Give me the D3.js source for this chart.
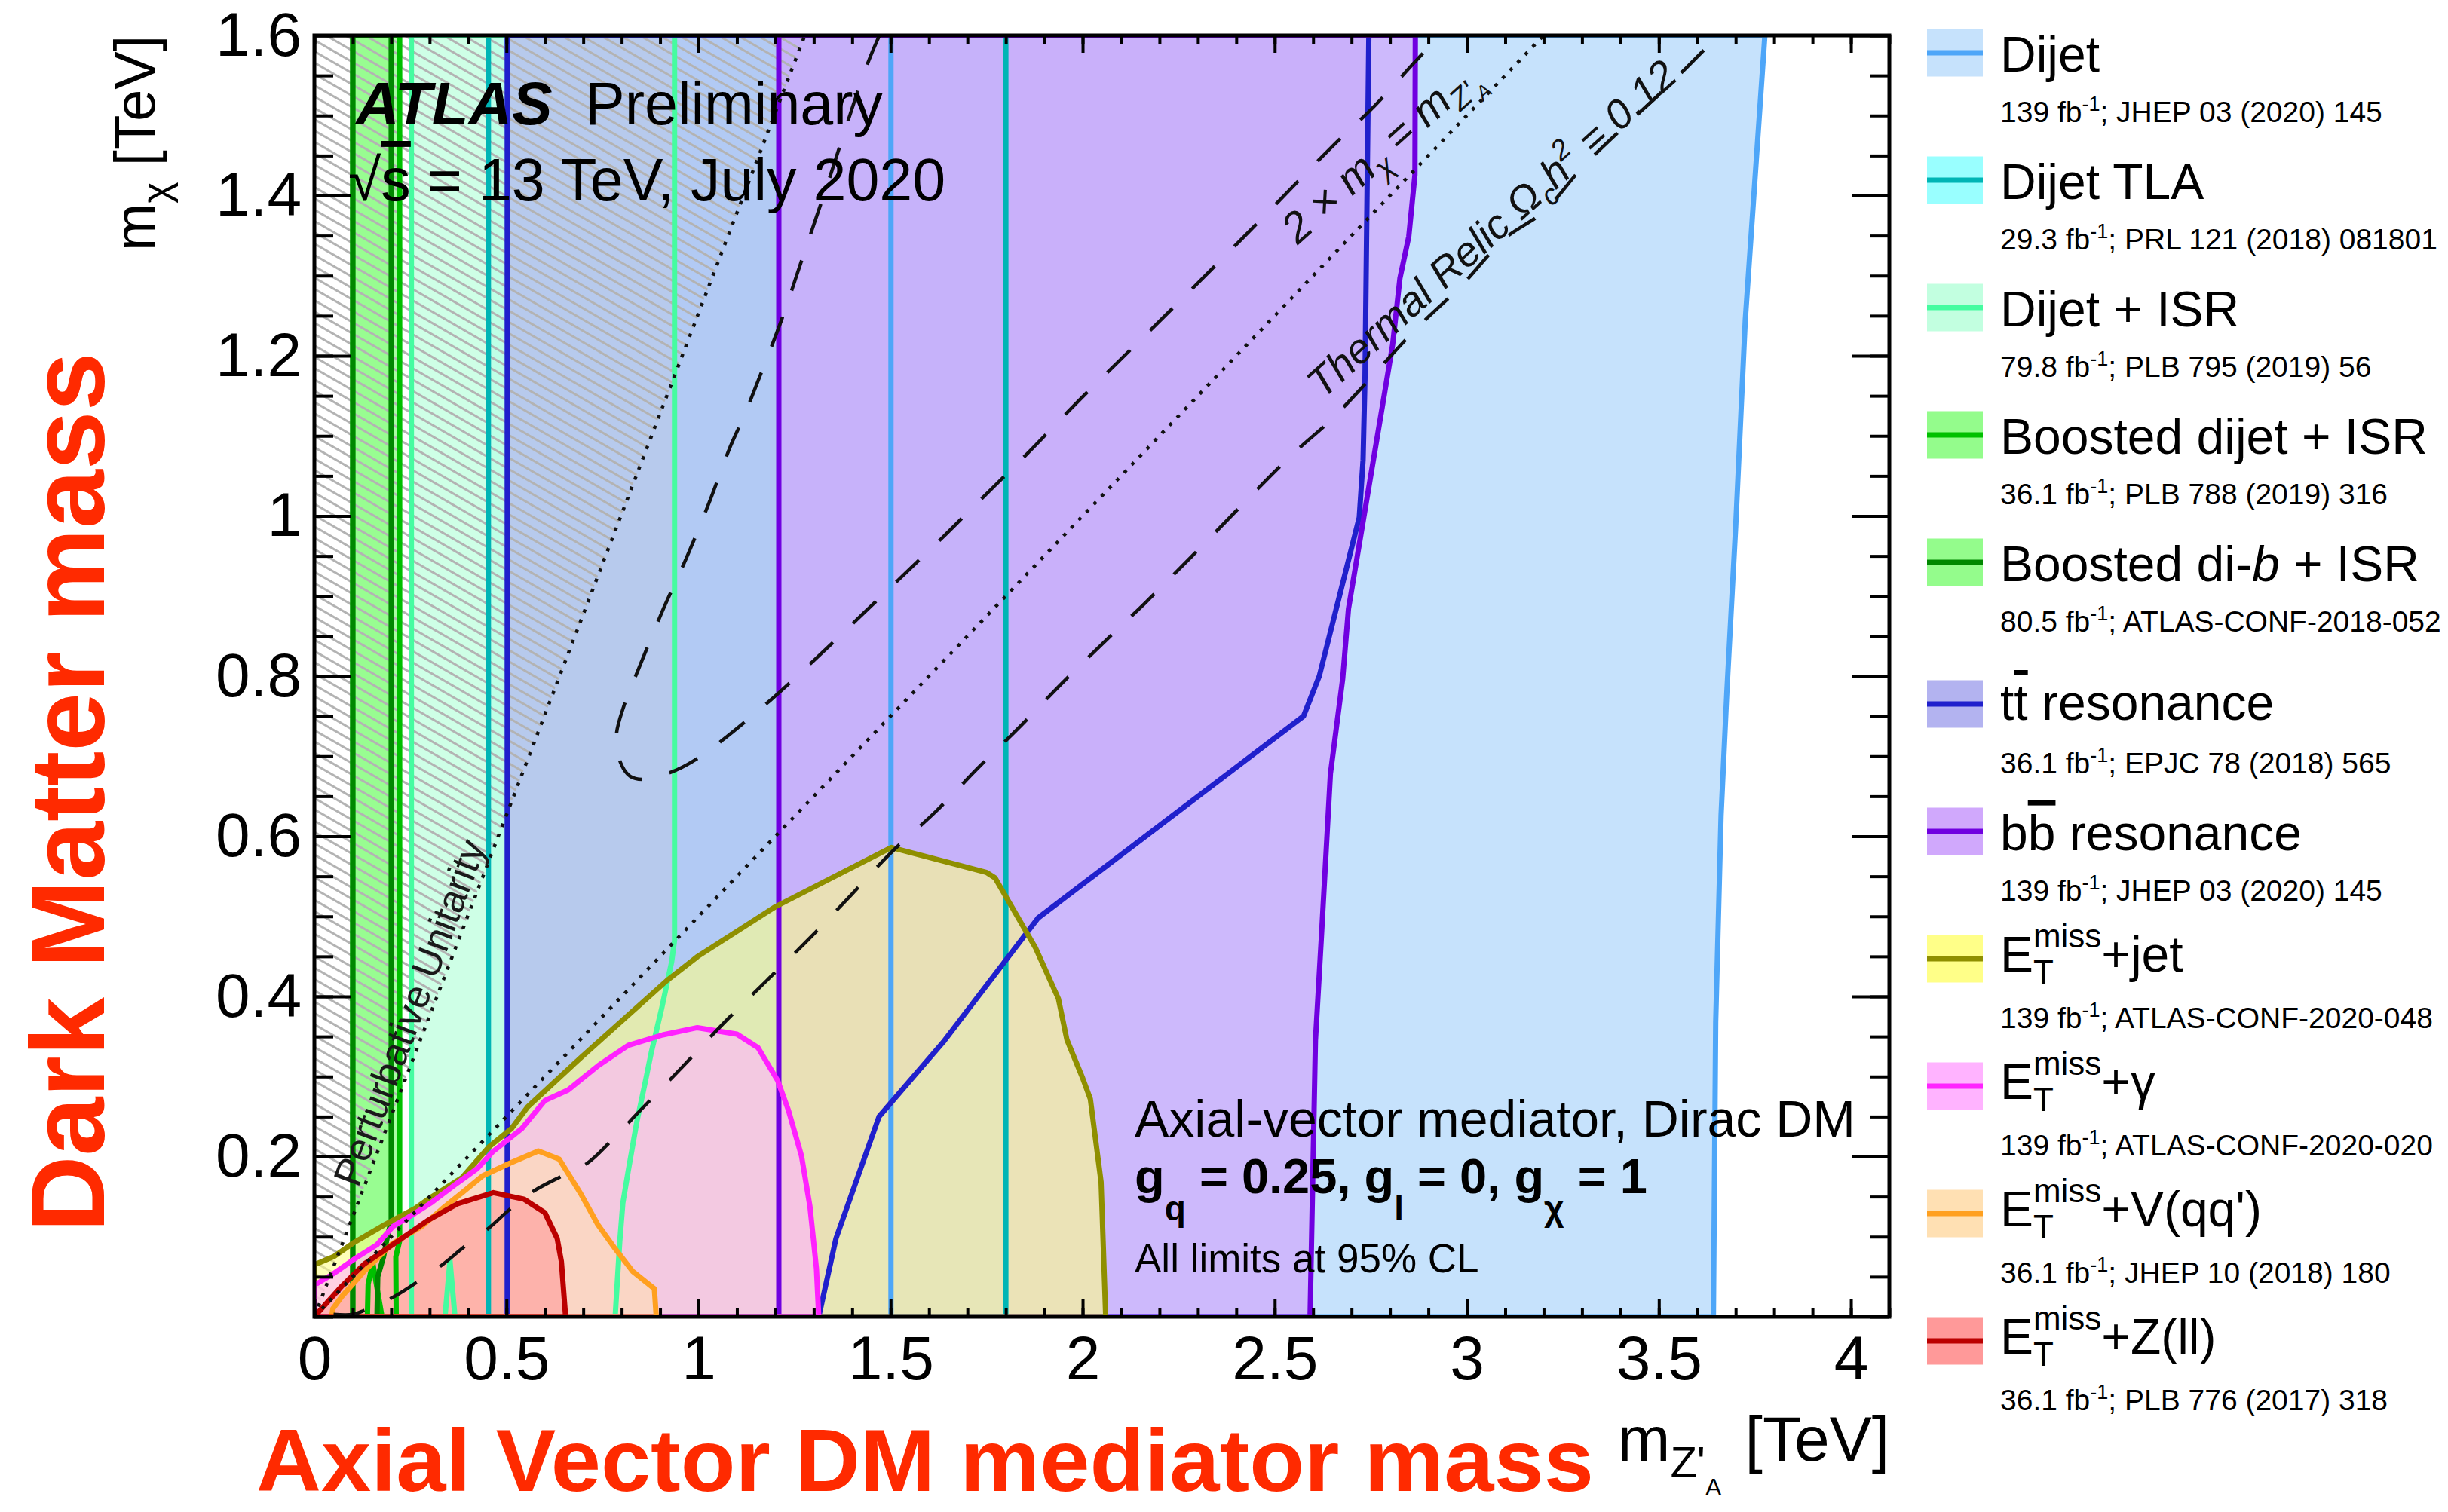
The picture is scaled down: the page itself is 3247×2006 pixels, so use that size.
<!DOCTYPE html>
<html>
<head>
<meta charset="utf-8">
<script src="https://cdn.jsdelivr.net/npm/d3@7"></script>
<style>
  body { margin: 0; background: #fff; }
  svg { display: block; }
  text { font-family: "Liberation Sans", Arial, Helvetica, sans-serif; }
</style>
</head>
<body>
<div id="chart"></div>
<script>
// axis ticks
const xMajorTicks = [0, 0.5, 1, 1.5, 2, 2.5, 3, 3.5, 4];
const yLabelTicks = [0.2, 0.4, 0.6, 0.8, 1, 1.2, 1.4, 1.6];

// exclusion contours, points are [m_Z'A, m_chi] in TeV
const dijet = [[1.501,0],[1.501,1.6],[3.776,1.6],[3.725,1.245],[3.70,0.987],[3.677,0.78],[3.662,0.626],[3.648,0.368],[3.642,0]];
const dijetTLA = [[0.453,0],[0.453,1.6],[1.80,1.6],[1.80,0]];
const dijetISR = [[0.2525,0],[0.2525,1.6],[0.9376,1.6],[0.9376,0.47],[0.93,0.443],[0.904,0.385],[0.877,0.33],[0.86,0.29],[0.84,0.245],[0.817,0.182],[0.803,0.142],[0.795,0.094],[0.783,0],[0.366,0],[0.353,0.07],[0.340,0]];
const boostedDijetISR = [[0.1,0],[0.1,1.6],[0.222,1.6],[0.222,0.095],[0.212,0.075],[0.213,0],[0.176,0],[0.152,0.067],[0.14,0.041],[0.138,0]];
const boostedDibISR = [[0.1,0],[0.1,1.6],[0.2,1.6],[0.2,0.12],[0.19,0.1],[0.18,0.075],[0.165,0.05],[0.163,0]];
const ttbarRes = [[0.502,0],[0.502,1.6],[2.745,1.6],[2.735,1.173],[2.73,1.07],[2.72,0.998],[2.616,0.80],[2.575,0.75],[1.884,0.498],[1.637,0.343],[1.47,0.25],[1.358,0.098],[1.313,0]];
const bbRes = [[1.209,0],[1.209,1.6],[2.866,1.6],[2.865,1.426],[2.849,1.349],[2.826,1.297],[2.807,1.214],[2.782,1.142],[2.722,0.97],[2.692,0.884],[2.677,0.797],[2.645,0.678],[2.621,0.47],[2.606,0.345],[2.592,0]];
const metJet = [[0,0],[0,0.065],[0.05,0.075],[0.104,0.093],[0.183,0.115],[0.261,0.135],[0.306,0.15],[0.385,0.174],[0.454,0.212],[0.513,0.235],[0.555,0.262],[0.69,0.322],[0.918,0.42],[0.998,0.45],[1.2,0.512],[1.502,0.586],[1.749,0.555],[1.772,0.548],[1.877,0.461],[1.937,0.397],[1.959,0.346],[2.0,0.298],[2.02,0.272],[2.048,0.168],[2.06,0]];
const metGamma = [[0,0],[0,0.042],[0.009,0.042],[0.05,0.054],[0.11,0.074],[0.163,0.09],[0.205,0.113],[0.261,0.129],[0.306,0.143],[0.372,0.167],[0.424,0.185],[0.464,0.206],[0.54,0.235],[0.60,0.27],[0.66,0.283],[0.74,0.314],[0.817,0.339],[0.907,0.352],[0.997,0.361],[1.1,0.353],[1.155,0.336],[1.206,0.295],[1.234,0.258],[1.268,0.201],[1.29,0.138],[1.307,0.06],[1.313,0]];
const metV = [[0.045,0],[0.048,0.01],[0.071,0.025],[0.13,0.057],[0.202,0.091],[0.28,0.113],[0.333,0.135],[0.385,0.155],[0.438,0.176],[0.51,0.192],[0.583,0.207],[0.637,0.197],[0.693,0.154],[0.738,0.115],[0.783,0.085],[0.828,0.057],[0.885,0.035],[0.89,0]];
const metZ = [[0,0],[0.009,0.005],[0.071,0.038],[0.13,0.066],[0.216,0.094],[0.294,0.12],[0.372,0.141],[0.466,0.155],[0.545,0.147],[0.6,0.13],[0.632,0.098],[0.643,0.069],[0.654,0]];

// theory curves
const unitarityLine = [[0,0],[1.2767,1.6]];
const twoMassLine = [[0,0],[3.2,1.6]];
const relicUpper = [[1.471,1.6],[1.437,1.561],[1.33,1.406],[1.274,1.327],[1.217,1.246],[1.161,1.176],[1.116,1.122],[1.083,1.087],[1.028,1.017],[0.968,0.947],[0.904,0.879],[0.844,0.809],[0.806,0.763],[0.786,0.725],[0.797,0.692],[0.822,0.675],[0.859,0.671],[0.934,0.681],[1.0,0.698],[1.062,0.72],[1.185,0.769],[1.299,0.819],[1.411,0.87],[1.52,0.92],[1.633,0.972],[1.74,1.023],[1.85,1.075],[1.986,1.142],[2.204,1.245],[2.429,1.353],[2.647,1.46],[2.76,1.512],[2.865,1.567],[2.93,1.6]];
const relicLower = [[0.05,0.003],[0.1,0.003],[0.13,0.008],[0.203,0.024],[0.26,0.041],[0.333,0.065],[0.389,0.087],[0.457,0.112],[0.513,0.136],[0.571,0.157],[0.645,0.176],[0.711,0.192],[0.767,0.217],[0.851,0.259],[0.958,0.312],[1.066,0.367],[1.178,0.42],[1.29,0.473],[1.396,0.526],[1.50,0.579],[1.62,0.632],[1.727,0.685],[1.839,0.738],[1.944,0.79],[2.057,0.843],[2.162,0.891],[2.287,0.951],[2.542,1.075],[2.655,1.124],[2.871,1.235],[2.985,1.287],[3.098,1.346],[3.2,1.38],[3.31,1.44],[3.53,1.54],[3.655,1.6]];

// legend
const seriesKeys = ["dijet","dijetTLA","dijetISR","boostedDijetISR","boostedDibISR","ttbarRes","bbRes","metJet","metGamma","metV","metZ"];
const legendLabels = ["Dijet","Dijet TLA","Dijet + ISR","Boosted dijet + ISR","Boosted di-{b} + ISR","t[t] resonance","b[b] resonance","MET+jet","MET+γ","MET+V(qq')","MET+Z(ll)"];
const legendLumi = ["139","29.3","79.8","36.1","80.5","36.1","139","139","139","36.1","36.1"];
const legendRefs = ["JHEP 03 (2020) 145","PRL 121 (2018) 081801","PLB 795 (2019) 56","PLB 788 (2019) 316","ATLAS-CONF-2018-052","EPJC 78 (2018) 565","JHEP 03 (2020) 145","ATLAS-CONF-2020-048","ATLAS-CONF-2020-020","JHEP 10 (2018) 180","PLB 776 (2017) 318"];

const seriesData = {dijet, dijetTLA, dijetISR, boostedDijetISR, boostedDibISR, ttbarRes, bbRes, metJet, metGamma, metV, metZ};
const seriesStyle = {
  dijet:           {fill: "#c6e2fc", line: "#4ea6f8", alpha: 1},
  dijetTLA:        {fill: "#99ffff", line: "#00b5b5", alpha: 0.8},
  dijetISR:        {fill: "#c2ffe0", line: "#45fca0", alpha: 0.8},
  boostedDijetISR: {fill: "#94fc8c", line: "#00c000", alpha: 0.8},
  boostedDibISR:   {fill: "#94fc8c", line: "#008800", alpha: 0.8},
  ttbarRes:        {fill: "#b3b3f0", line: "#2020cc", alpha: 0.7},
  bbRes:           {fill: "#d0a8fc", line: "#7000e0", alpha: 0.7},
  metJet:          {fill: "#ffff88", line: "#8f8f00", alpha: 0.6},
  metGamma:        {fill: "#ffb3ff", line: "#ff22ff", alpha: 0.6},
  metV:            {fill: "#ffe0b3", line: "#ffa020", alpha: 0.6},
  metZ:            {fill: "#ff9999", line: "#bb0000", alpha: 0.6}
};

const W = 3247, H = 2006;
const plot = {left: 417, right: 2506, top: 47, bottom: 1747};

const x = d3.scaleLinear().domain([0, 4.1]).range([plot.left, plot.right]);
const y = d3.scaleLinear().domain([0, 1.6]).range([plot.bottom, plot.top]);

const svg = d3.select("#chart").append("svg")
  .attr("width", W).attr("height", H);

const defs = svg.append("defs");
defs.append("clipPath").attr("id", "inner")
  .append("rect")
  .attr("x", plot.left + 1).attr("y", plot.top + 1)
  .attr("width", plot.right - plot.left - 2).attr("height", plot.bottom - plot.top - 2);
const hatch = defs.append("pattern").attr("id", "hatch")
  .attr("patternUnits", "userSpaceOnUse")
  .attr("width", 20).attr("height", 13)
  .attr("patternTransform", "rotate(30)");
hatch.append("line")
  .attr("x1", 0).attr("y1", 6.5).attr("x2", 20).attr("y2", 6.5)
  .attr("stroke", "#b3b3b3").attr("stroke-width", 3);

const line = d3.line().x(d => x(d[0])).y(d => y(d[1]));
const smooth = d3.line().x(d => x(d[0])).y(d => y(d[1])).curve(d3.curveCatmullRom.alpha(0.5));

const area = svg.append("g").attr("clip-path", "url(#inner)");

// fills of the resonance searches, then the unitarity hatch, then the E_T^miss fills
const lowerKeys = seriesKeys.slice(0, 7);
const metKeys = seriesKeys.slice(7);

lowerKeys.forEach(k => {
  area.append("path")
    .attr("d", line(seriesData[k]) + "Z")
    .attr("fill", seriesStyle[k].fill)
    .attr("fill-opacity", seriesStyle[k].alpha)
    .attr("stroke", "none");
});

area.append("path")
  .attr("d", line([[0, 0], unitarityLine[1], [0, 1.6]]) + "Z")
  .attr("fill", "url(#hatch)");

metKeys.forEach(k => {
  area.append("path")
    .attr("d", line(seriesData[k]) + "Z")
    .attr("fill", seriesStyle[k].fill)
    .attr("fill-opacity", seriesStyle[k].alpha)
    .attr("stroke", "none");
});

// contour lines
seriesKeys.forEach(k => {
  area.append("path")
    .attr("d", line(seriesData[k]) + "Z")
    .attr("fill", "none")
    .attr("stroke", seriesStyle[k].line)
    .attr("stroke-width", 7)
    .attr("stroke-linejoin", "round");
});

// theory lines
[unitarityLine, twoMassLine].forEach(l => {
  area.append("path")
    .attr("d", line(l))
    .attr("fill", "none")
    .attr("stroke", "#111")
    .attr("stroke-width", 4.5)
    .attr("stroke-dasharray", "4.5,10");
});
[relicUpper, relicLower].forEach(l => {
  area.append("path")
    .attr("d", smooth(l))
    .attr("fill", "none")
    .attr("stroke", "#111")
    .attr("stroke-width", 4.5)
    .attr("stroke-dasharray", "42,37");
});

// labels on the theory lines
svg.append("text")
  .attr("transform", `translate(${x(0.114)},${y(0.16)}) rotate(-69.5)`)
  .attr("font-size", 52).attr("fill", "#1a1a1a")
  .text("Perturbative Unitarity");

const twoM = svg.append("text")
  .attr("transform", `translate(${x(2.56)},${y(1.338)}) rotate(-42)`)
  .attr("font-size", 57).attr("font-style", "italic").attr("fill", "#111");
twoM.append("tspan").text("2 × m");
twoM.append("tspan").attr("font-size", 40).attr("dy", 13).text("χ");
twoM.append("tspan").attr("dy", -13).text(" = m");
twoM.append("tspan").attr("font-size", 40).attr("dy", 13).text("Z'");
twoM.append("tspan").attr("font-size", 27).attr("dy", 10).text("A");

const relic = svg.append("text")
  .attr("transform", `translate(${x(2.625)},${y(1.145)}) rotate(-42)`)
  .attr("font-size", 55).attr("font-style", "italic").attr("fill", "#111");
relic.append("tspan").text("Thermal Relic Ω");
relic.append("tspan").attr("font-size", 38).attr("dy", 13).text("c");
relic.append("tspan").attr("dy", -13).text("h");
relic.append("tspan").attr("font-size", 38).attr("dy", -23).text("2");
relic.append("tspan").attr("dy", 23).text(" = 0.12");

// frame and ticks
function styleAxis(g) {
  g.select(".domain").remove();
  g.selectAll(".tick line").attr("stroke", "#000").attr("stroke-width", 4);
  g.attr("font-family", null).attr("font-size", 82);
  g.selectAll("text").attr("fill", "#000");
}
const fmt = d3.format("~g");
svg.append("g").attr("transform", `translate(0,${plot.bottom})`)
  .call(d3.axisBottom(x).tickValues(x.ticks(41)).tickSize(-12).tickFormat(""))
  .call(styleAxis);
svg.append("g").attr("transform", `translate(0,${plot.bottom})`)
  .call(d3.axisBottom(x).tickValues(xMajorTicks).tickSize(-23).tickPadding(25).tickFormat(fmt))
  .call(styleAxis);
svg.append("g").attr("transform", `translate(0,${plot.top})`)
  .call(d3.axisTop(x).tickValues(x.ticks(41)).tickSize(-12).tickFormat(""))
  .call(styleAxis);
svg.append("g").attr("transform", `translate(0,${plot.top})`)
  .call(d3.axisTop(x).tickValues(xMajorTicks).tickSize(-23).tickFormat(""))
  .call(styleAxis);
svg.append("g").attr("transform", `translate(${plot.left},0)`)
  .call(d3.axisLeft(y).tickValues(y.ticks(32)).tickSize(-25).tickFormat(""))
  .call(styleAxis);
svg.append("g").attr("transform", `translate(${plot.left},0)`)
  .call(d3.axisLeft(y).tickValues(yLabelTicks).tickSize(-49).tickPadding(17).tickFormat(fmt))
  .call(styleAxis);
svg.append("g").attr("transform", `translate(${plot.right},0)`)
  .call(d3.axisRight(y).tickValues(y.ticks(32)).tickSize(-25).tickFormat(""))
  .call(styleAxis);
svg.append("g").attr("transform", `translate(${plot.right},0)`)
  .call(d3.axisRight(y).tickValues(yLabelTicks).tickSize(-49).tickFormat(""))
  .call(styleAxis);

svg.append("rect")
  .attr("x", plot.left).attr("y", plot.top)
  .attr("width", plot.right - plot.left).attr("height", plot.bottom - plot.top)
  .attr("fill", "none").attr("stroke", "#000").attr("stroke-width", 5);

// axis titles
const yTitle = svg.append("text")
  .attr("transform", `translate(205,${plot.top}) rotate(-90)`)
  .attr("text-anchor", "end").attr("font-size", 76);
yTitle.append("tspan").text("m");
yTitle.append("tspan").attr("font-size", 54).attr("dy", 20).text("χ");
yTitle.append("tspan").attr("dy", -20).text(" [TeV]");

const xTitle = svg.append("text")
  .attr("x", plot.right).attr("y", 1938)
  .attr("text-anchor", "end").attr("font-size", 84);
xTitle.append("tspan").text("m");
xTitle.append("tspan").attr("font-size", 58).attr("dy", 22).text("Z'");
xTitle.append("tspan").attr("font-size", 32).attr("dy", 24).text("A");
xTitle.append("tspan").attr("dy", -46).attr("dx", 8).text(" [TeV]");

svg.append("text")
  .attr("transform", "translate(138,1051) rotate(-90)")
  .attr("text-anchor", "middle")
  .attr("font-size", 140).attr("font-weight", "bold").attr("fill", "#ff2a00")
  .attr("textLength", 1167).attr("lengthAdjust", "spacingAndGlyphs")
  .text("Dark Matter mass");
svg.append("text")
  .attr("x", 340).attr("y", 1978)
  .attr("font-size", 116).attr("font-weight", "bold").attr("fill", "#ff2a00")
  .attr("textLength", 1774).attr("lengthAdjust", "spacingAndGlyphs")
  .text("Axial Vector DM mediator mass");

// ATLAS label
svg.append("text").attr("x", 472).attr("y", 165)
  .attr("font-size", 80).attr("font-weight", "bold").attr("font-style", "italic")
  .text("ATLAS");
svg.append("text").attr("x", 776).attr("y", 165)
  .attr("font-size", 79).text("Preliminary");
const sqrtS = svg.append("text").attr("x", 462).attr("y", 266).attr("font-size", 79);
sqrtS.append("tspan").text("√");
sqrtS.append("tspan").style("text-decoration", "overline").text("s");
sqrtS.append("tspan").text(" = 13 TeV, July 2020");

// model box
svg.append("text").attr("x", 1505).attr("y", 1508).attr("font-size", 68)
  .text("Axial-vector mediator, Dirac DM");
const gq = svg.append("text").attr("x", 1505).attr("y", 1583)
  .attr("font-size", 65).attr("font-weight", "bold");
gq.append("tspan").text("g");
gq.append("tspan").attr("font-size", 46).attr("dy", 36).text("q");
gq.append("tspan").attr("dy", -36).text(" = 0.25, g");
gq.append("tspan").attr("font-size", 46).attr("dy", 36).text("l");
gq.append("tspan").attr("dy", -36).text(" = 0, g");
gq.append("tspan").attr("font-size", 46).attr("dy", 36).text("χ");
gq.append("tspan").attr("dy", -36).text(" = 1");
svg.append("text").attr("x", 1505).attr("y", 1688).attr("font-size", 53)
  .text("All limits at 95% CL");

// legend
const legend = svg.append("g");
const mainSize = 66, subSize = 39;

function richLabel(t, label) {
  let rest = label;
  let back = 0;
  if (rest.startsWith("MET")) {
    t.append("tspan").text("E");
    t.append("tspan").attr("font-size", 44).attr("dy", 16).text("T");
    t.append("tspan").attr("font-size", 44).attr("dx", -27).attr("dy", -48).text("miss");
    back = 32;
    rest = rest.slice(3);
  }
  rest.split(/(\{[^}]*\}|\[[^\]]*\])/).filter(s => s.length).forEach((tok, i) => {
    const ts = t.append("tspan");
    if (tok[0] === "{") ts.attr("font-style", "italic").text(tok.slice(1, -1));
    else if (tok[0] === "[") ts.style("text-decoration", "overline").text(tok.slice(1, -1));
    else ts.text(tok);
    if (i === 0 && back) ts.attr("dy", back);
  });
}

seriesKeys.forEach((k, i) => {
  const cy = i < 5 ? 70 + 169 * i : 934 + 169 * (i - 5);
  const st = seriesStyle[k];
  legend.append("rect")
    .attr("x", 2556).attr("y", cy - 31.5).attr("width", 74).attr("height", 63)
    .attr("fill", st.fill);
  legend.append("line")
    .attr("x1", 2556).attr("x2", 2630).attr("y1", cy).attr("y2", cy)
    .attr("stroke", st.line).attr("stroke-width", 7);
  const isMet = legendLabels[i].startsWith("MET");
  const lab = legend.append("text")
    .attr("x", 2653).attr("y", cy + (isMet ? 17 : (k === "ttbarRes" ? 21 : 25)))
    .attr("font-size", mainSize);
  richLabel(lab, legendLabels[i]);
  const sub = legend.append("text")
    .attr("x", 2653).attr("y", cy + 92).attr("font-size", subSize);
  sub.append("tspan").text(legendLumi[i] + " fb");
  sub.append("tspan").attr("font-size", 27).attr("dy", -15).text("-1");
  sub.append("tspan").attr("dy", 15).text("; " + legendRefs[i]);
});
</script>
</body>
</html>
